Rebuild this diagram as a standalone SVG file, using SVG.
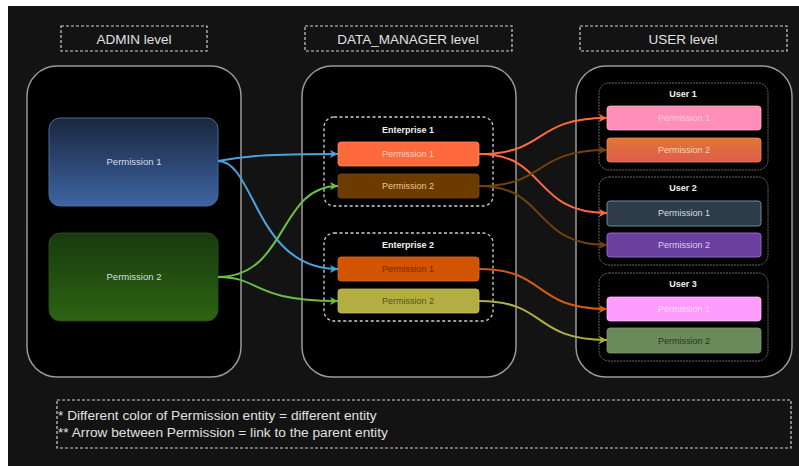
<svg xmlns="http://www.w3.org/2000/svg" width="799" height="466" viewBox="0 0 799 466">
<defs>
<style>
text{font-family:"Liberation Sans",Arial,sans-serif;text-anchor:middle}
.lvl{fill:none;stroke:#cfcfcf;stroke-width:1.2;stroke-dasharray:3,2}
.lvlt{font-size:13.5px;fill:#e0e0e0}
.cont{fill:#000;stroke:#9a9a9a;stroke-width:1.5}
.ent{fill:none;stroke:#cfcfcf;stroke-width:1.3;stroke-dasharray:3,2.5}
.usr{fill:none;stroke:#6a6a6a;stroke-width:1;stroke-dasharray:2,1}
.hd{font-size:9px;font-weight:bold;fill:#f0f0f0}
.pt{font-size:9px}
.big{font-size:9.5px;fill:#d8dde6}
.e{fill:none;stroke-width:2}
.note{font-size:13.7px;fill:#e0e0e0;text-anchor:start}
</style>
<linearGradient id="gBlue" x1="0" y1="0" x2="0" y2="1"><stop offset="0" stop-color="#19263f"/><stop offset="1" stop-color="#3e64a2"/></linearGradient>
<linearGradient id="gGreen" x1="0" y1="0" x2="0" y2="1"><stop offset="0" stop-color="#183a0e"/><stop offset="1" stop-color="#2d6412"/></linearGradient>
<linearGradient id="gOr" x1="0" y1="0" x2="0" y2="1"><stop offset="0" stop-color="#e07832"/><stop offset="1" stop-color="#e05a4e"/></linearGradient>
<marker id="aB" markerUnits="userSpaceOnUse" markerWidth="9" markerHeight="9" refX="8" refY="4.5" orient="auto"><path d="M0,0.5 L8,4.5 L0,8.5 L2,4.5 z" fill="#4ba3dd"/></marker>
<marker id="aG" markerUnits="userSpaceOnUse" markerWidth="9" markerHeight="9" refX="8" refY="4.5" orient="auto"><path d="M0,0.5 L8,4.5 L0,8.5 L2,4.5 z" fill="#6abf45"/></marker>
<marker id="aR" markerUnits="userSpaceOnUse" markerWidth="9" markerHeight="9" refX="8" refY="4.5" orient="auto"><path d="M0,0.5 L8,4.5 L0,8.5 L2,4.5 z" fill="#ff6a40"/></marker>
<marker id="aN" markerUnits="userSpaceOnUse" markerWidth="9" markerHeight="9" refX="8" refY="4.5" orient="auto"><path d="M0,0.5 L8,4.5 L0,8.5 L2,4.5 z" fill="#704408"/></marker>
<marker id="aO" markerUnits="userSpaceOnUse" markerWidth="9" markerHeight="9" refX="8" refY="4.5" orient="auto"><path d="M0,0.5 L8,4.5 L0,8.5 L2,4.5 z" fill="#d35a10"/></marker>
<marker id="aY" markerUnits="userSpaceOnUse" markerWidth="9" markerHeight="9" refX="8" refY="4.5" orient="auto"><path d="M0,0.5 L8,4.5 L0,8.5 L2,4.5 z" fill="#b0b040"/></marker>
</defs>
<rect x="0" y="0" width="799" height="466" fill="#ffffff"/>
<rect x="8" y="6" width="791" height="460" fill="#131313"/>

<g id="admin-level">
<rect class="lvl" x="61" y="26" width="146" height="25"/>
<text class="lvlt" x="134" y="44">ADMIN level</text>
<rect class="cont" x="27" y="66" width="214" height="311" rx="30"/>
</g>
<g id="dm-level">
<rect class="lvl" x="305" y="26" width="207" height="25"/>
<text class="lvlt" x="408" y="44">DATA_MANAGER level</text>
<rect class="cont" x="302" y="66" width="214" height="311" rx="30"/>
</g>
<g id="user-level">
<rect class="lvl" x="580" y="26" width="207" height="25"/>
<text class="lvlt" x="683" y="44">USER level</text>
<rect class="cont" x="576" y="66" width="216" height="311" rx="30"/>
</g>

<g id="admin-p1">
<rect x="49" y="118" width="169" height="88" rx="11" fill="url(#gBlue)" stroke="#4a6a9c" stroke-width="1"/>
<text class="big" x="134" y="165">Permission 1</text>
</g>
<g id="admin-p2">
<rect x="49" y="233" width="169" height="88" rx="11" fill="url(#gGreen)" stroke="#2a4a1a" stroke-width="1"/>
<text class="big" x="134" y="280">Permission 2</text>
</g>

<g id="enterprise1">
<rect class="ent" x="324" y="117" width="169" height="89" rx="10"/>
<text class="hd" x="408" y="133">Enterprise 1</text>
</g>
<g id="e1-p1">
<rect x="338" y="142" width="141" height="24" rx="3" fill="#ff6a3d" stroke="#ff8a60" stroke-width="0.8"/>
<text class="pt" x="408" y="157" fill="#ffd2c0">Permission 1</text>
</g>
<g id="e1-p2">
<rect x="338" y="174" width="141" height="24" rx="3" fill="#6b3b00" stroke="#7a4a10" stroke-width="0.8"/>
<text class="pt" x="408" y="189" fill="#ecc78e">Permission 2</text>
</g>
<g id="enterprise2">
<rect class="ent" x="324" y="233" width="169" height="88" rx="10"/>
<text class="hd" x="408" y="248">Enterprise 2</text>
</g>
<g id="e2-p1">
<rect x="338" y="257" width="141" height="24" rx="3" fill="#d15400" stroke="#e06a20" stroke-width="0.8"/>
<text class="pt" x="408" y="272" fill="#7a2800">Permission 1</text>
</g>
<g id="e2-p2">
<rect x="338" y="289" width="141" height="24" rx="3" fill="#b3ae42" stroke="#c4c060" stroke-width="0.8"/>
<text class="pt" x="408" y="304" fill="#56541e">Permission 2</text>
</g>

<g id="user1">
<rect class="usr" x="599" y="83" width="169" height="87" rx="10"/>
<text class="hd" x="683" y="97">User 1</text>
</g>
<g id="u1-p1">
<rect x="607" y="106" width="154" height="24" rx="3" fill="#ff8fb8" stroke="#ffa8c8" stroke-width="0.8"/>
<text class="pt" x="684" y="121" fill="#ffc8dc">Permission 1</text>
</g>
<g id="u1-p2">
<rect x="607" y="138" width="154" height="24" rx="3" fill="url(#gOr)" stroke="#e88a60" stroke-width="0.8"/>
<text class="pt" x="684" y="153" fill="#ffd4b8">Permission 2</text>
</g>
<g id="user2">
<rect class="usr" x="599" y="177" width="169" height="88" rx="10"/>
<text class="hd" x="683" y="191">User 2</text>
</g>
<g id="u2-p1">
<rect x="607" y="201" width="154" height="25" rx="3" fill="#2e3c4a" stroke="#6a8aa2" stroke-width="1"/>
<text class="pt" x="684" y="216" fill="#d4dce4">Permission 1</text>
</g>
<g id="u2-p2">
<rect x="607" y="233" width="154" height="24" rx="3" fill="#6a3fa0" stroke="#9464c4" stroke-width="1"/>
<text class="pt" x="684" y="248" fill="#dccdf2">Permission 2</text>
</g>
<g id="user3">
<rect class="usr" x="599" y="273" width="169" height="88" rx="10"/>
<text class="hd" x="683" y="287">User 3</text>
</g>
<g id="u3-p1">
<rect x="607" y="297" width="154" height="24" rx="3" fill="#ff9cff" stroke="#ffb8ff" stroke-width="0.8"/>
<text class="pt" x="684" y="312" fill="#ffdcff">Permission 1</text>
</g>
<g id="u3-p2">
<rect x="607" y="328" width="154" height="25" rx="3" fill="#6b8a5a" stroke="#7c9a6a" stroke-width="0.8"/>
<text class="pt" x="684" y="344" fill="#26361c">Permission 2</text>
</g>

<g id="connectors">
<path class="e" stroke="#4ba3dd" marker-end="url(#aB)" d="M218,161 C245,156 265,154 338,154"/>
<path class="e" stroke="#4ba3dd" marker-end="url(#aB)" d="M218,161 C255,161 255,269 338,269"/>
<path class="e" stroke="#6abf45" marker-end="url(#aG)" d="M218,277 C288,277 278,186 338,186"/>
<path class="e" stroke="#6abf45" marker-end="url(#aG)" d="M218,277 C262,277 250,301 338,301"/>
<path class="e" stroke="#ff6a40" marker-end="url(#aR)" d="M479,154 C548,154 532,118 607,118"/>
<path class="e" stroke="#ff6a40" marker-end="url(#aR)" d="M479,154 C548,154 532,213 607,213"/>
<path class="e" stroke="#704408" marker-end="url(#aN)" d="M479,186 C548,186 532,150 607,150"/>
<path class="e" stroke="#704408" marker-end="url(#aN)" d="M479,186 C548,186 532,245 607,245"/>
<path class="e" stroke="#d35a10" marker-end="url(#aO)" d="M479,269 C548,269 532,309 607,309"/>
<path class="e" stroke="#b0b040" marker-end="url(#aY)" d="M479,301 C548,301 532,340 607,340"/>
</g>

<g id="note">
<rect class="lvl" x="57" y="400" width="734" height="48"/>
<text class="note" x="58" y="420">* Different color of Permission entity = different entity</text>
<text class="note" x="58" y="437">** Arrow between Permission = link to the parent entity</text>
</g>
</svg>
